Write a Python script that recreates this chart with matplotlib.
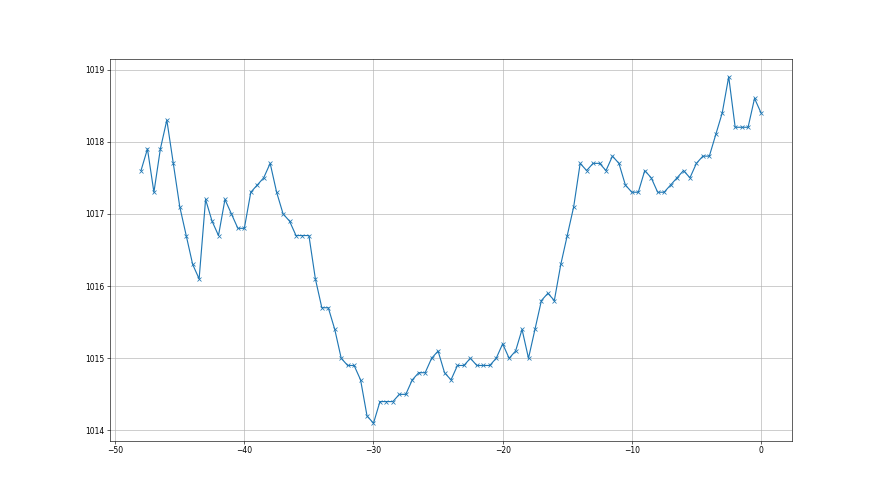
import numpy as np
import matplotlib
matplotlib.use("Agg")
import matplotlib.pyplot as plt

# hours relative to now, half-hour readings
hours = np.arange(-48, 0.5, 0.5)

# pressure readings [hPa]
pressure = [
    1017.6, 1017.9, 1017.3, 1017.9, 1018.3, 1017.7, 1017.1, 1016.7, 1016.3, 1016.1,
    1017.2, 1016.9, 1016.7, 1017.2, 1017.0, 1016.8, 1016.8, 1017.3, 1017.4, 1017.5,
    1017.7, 1017.3, 1017.0, 1016.9, 1016.7, 1016.7, 1016.7, 1016.1, 1015.7, 1015.7,
    1015.4, 1015.0, 1014.9, 1014.9, 1014.7, 1014.2, 1014.1, 1014.4, 1014.4, 1014.4,
    1014.5, 1014.5, 1014.7, 1014.8, 1014.8, 1015.0, 1015.1, 1014.8, 1014.7, 1014.9,
    1014.9, 1015.0, 1014.9, 1014.9, 1014.9, 1015.0, 1015.2, 1015.0, 1015.1, 1015.4,
    1015.0, 1015.4, 1015.8, 1015.9, 1015.8, 1016.3, 1016.7, 1017.1, 1017.7, 1017.6,
    1017.7, 1017.7, 1017.6, 1017.8, 1017.7, 1017.4, 1017.3, 1017.3, 1017.6, 1017.5,
    1017.3, 1017.3, 1017.4, 1017.5, 1017.6, 1017.5, 1017.7, 1017.8, 1017.8, 1018.1,
    1018.4, 1018.9, 1018.2, 1018.2, 1018.2, 1018.6, 1018.4,
]

fig, ax = plt.subplots(figsize=(16, 9), dpi=55)
ax.plot(hours, pressure, marker="x", color="#1f77b4")

ax.yaxis.get_major_formatter().set_useOffset(False)
ax.grid(True)

fig.savefig("out.png", dpi=55)
